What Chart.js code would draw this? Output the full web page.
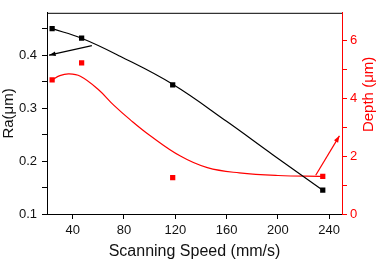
<!DOCTYPE html>
<html>
<head>
<meta charset="utf-8">
<script src="https://cdn.jsdelivr.net/npm/chart.js@4.4.0/dist/chart.umd.min.js"></script>
<style>
html, body { margin: 0; padding: 0; background: #fff; }
#wrap { width: 378px; height: 261px; position: relative; }
</style>
</head>
<body>
<div id="wrap"><canvas id="grafico"></canvas></div>
<script>
// --- datos medidos ---
const speeds = [24, 47, 118, 235];
const raValues = [0.45, 0.432, 0.344, 0.145];
const depthValues = [4.63, 5.22, 1.26, 1.30];

// curvas de ajuste
const raFitX = [24, 47, 77, 118, 160, 196, 235];
const raFitY = [0.45, 0.432, 0.398, 0.345, 0.275, 0.212, 0.145];
const depthFitX = [24, 30, 37, 46, 60, 72, 85, 100, 124, 145, 170, 200, 235];
const depthFitY = [4.63, 4.78, 4.84, 4.76, 4.3, 3.76, 3.25, 2.72, 2.0, 1.6, 1.42, 1.33, 1.3];

// flechas (inicio, fin) en unidades de datos
const raArrow = [[55, 0.418], [21.6, 0.4]];
const depthArrow = [[229.5, 1.34], [248, 2.7]];

// ticks
const xTicks = [40, 80, 120, 160, 200, 240];
const raTicks = [0.1, 0.15, 0.2, 0.25, 0.3, 0.35, 0.4, 0.45];
const raLabels = ['0.1', '0.2', '0.3', '0.4'];
const depthTicks = [0, 1, 2, 3, 4, 5, 6];
const depthLabels = ['0', '2', '4', '6'];

const RED = '#ff0000';
Chart.defaults.font.family = 'Arial, "Liberation Sans", sans-serif';

const toPoints = (xs, ys) => xs.map((x, i) => ({ x: x, y: ys[i] }));

const drawArrow = (ctx, chart, arrow, yId, color) => {
    const sx = chart.scales.x, sy = chart.scales[yId];
    const x1 = sx.getPixelForValue(arrow[0][0]), y1 = sy.getPixelForValue(arrow[0][1]);
    const x2 = sx.getPixelForValue(arrow[1][0]), y2 = sy.getPixelForValue(arrow[1][1]);
    const ang = Math.atan2(y2 - y1, x2 - x1);
    ctx.save();
    ctx.strokeStyle = color;
    ctx.fillStyle = color;
    ctx.lineWidth = 1.2;
    ctx.beginPath();
    ctx.moveTo(x1, y1);
    ctx.lineTo(x2, y2);
    ctx.stroke();
    ctx.beginPath();
    ctx.moveTo(x2, y2);
    ctx.lineTo(x2 - 7 * Math.cos(ang - 0.35), y2 - 7 * Math.sin(ang - 0.35));
    ctx.lineTo(x2 - 7 * Math.cos(ang + 0.35), y2 - 7 * Math.sin(ang + 0.35));
    ctx.closePath();
    ctx.fill();
    ctx.restore();
};

const extras = {
    id: 'extras',
    afterDatasetsDraw(chart) {
        const ctx = chart.ctx;
        const a = chart.chartArea;
        // borde superior
        ctx.save();
        ctx.strokeStyle = '#000';
        ctx.lineWidth = 1;
        ctx.beginPath();
        ctx.moveTo(a.left, a.top + 0.5);
        ctx.lineTo(a.right, a.top + 0.5);
        ctx.stroke();
        ctx.restore();

        drawArrow(ctx, chart, raArrow, 'y', '#000');
        drawArrow(ctx, chart, depthArrow, 'y1', RED);

        // titulo eje derecho (leido de abajo hacia arriba)
        ctx.save();
        ctx.fillStyle = RED;
        ctx.font = '15px Arial, "Liberation Sans", sans-serif';
        ctx.textAlign = 'center';
        ctx.textBaseline = 'middle';
        ctx.translate(369, (a.top + a.bottom) / 2 - 19);
        ctx.rotate(-Math.PI / 2);
        ctx.fillText('Depth (\u03bcm)', 0, 0);
        ctx.restore();
    }
};

const ctxGrafico = document.getElementById('grafico').getContext('2d');
new Chart(ctxGrafico, {
    type: 'scatter',
    data: {
        datasets: [
            {
                label: 'Ra fit',
                data: toPoints(raFitX, raFitY),
                yAxisID: 'y',
                showLine: true,
                borderColor: '#000',
                borderWidth: 1.2,
                pointRadius: 0,
                tension: 0.4
            },
            {
                label: 'Depth fit',
                data: toPoints(depthFitX, depthFitY),
                yAxisID: 'y1',
                showLine: true,
                borderColor: RED,
                borderWidth: 1.2,
                pointRadius: 0,
                tension: 0.4
            },
            {
                label: 'Ra',
                data: toPoints(speeds, raValues),
                yAxisID: 'y',
                pointStyle: 'rect',
                pointRadius: 3.7,
                backgroundColor: '#000',
                borderColor: '#000',
                borderWidth: 0
            },
            {
                label: 'Depth',
                data: toPoints(speeds, depthValues),
                yAxisID: 'y1',
                pointStyle: 'rect',
                pointRadius: 3.7,
                backgroundColor: RED,
                borderColor: RED,
                borderWidth: 0
            }
        ]
    },
    options: {
        responsive: true,
        maintainAspectRatio: false,
        animation: false,
        layout: { padding: { top: 4, left: 0, right: 0, bottom: 0 } },
        plugins: {
            legend: { display: false },
            tooltip: { enabled: false }
        },
        scales: {
            x: {
                type: 'linear',
                min: 20,
                max: 250,
                afterBuildTicks: s => { s.ticks = xTicks.map(v => ({ value: v })); },
                afterFit: s => { s.height = 47; },
                grid: { drawOnChartArea: false, tickLength: 5, color: '#000' },
                border: { color: '#000', width: 1 },
                ticks: { color: '#111', font: { size: 13 }, padding: 4, maxRotation: 0 },
                title: { display: true, text: 'Scanning Speed (mm/s)', color: '#111', font: { size: 16 }, padding: 0 }
            },
            y: {
                type: 'linear',
                position: 'left',
                min: 0.1,
                max: 0.48,
                afterBuildTicks: s => { s.ticks = raTicks.map(v => ({ value: v })); },
                afterFit: s => { s.width = 47; },
                grid: { drawOnChartArea: false, tickLength: 5, color: '#000' },
                border: { color: '#000', width: 1 },
                ticks: {
                    color: '#111',
                    font: { size: 13 },
                    padding: 5,
                    callback: v => {
                        const t = (Math.round(v * 100) / 100).toString();
                        return raLabels.includes(t) ? t : '';
                    }
                },
                title: { display: true, text: 'Ra(\u03bcm)', color: '#111', font: { size: 15 }, padding: 0 }
            },
            y1: {
                type: 'linear',
                position: 'right',
                min: 0,
                max: 6.95,
                afterBuildTicks: s => { s.ticks = depthTicks.map(v => ({ value: v })); },
                afterFit: s => { s.width = 36; },
                grid: { drawOnChartArea: false, tickLength: 5, color: RED },
                border: { color: RED, width: 1 },
                ticks: {
                    color: RED,
                    font: { size: 13 },
                    padding: 3,
                    callback: v => depthLabels.includes(String(v)) ? String(v) : ''
                }
            }
        }
    },
    plugins: [extras]
});
</script>
</body>
</html>
